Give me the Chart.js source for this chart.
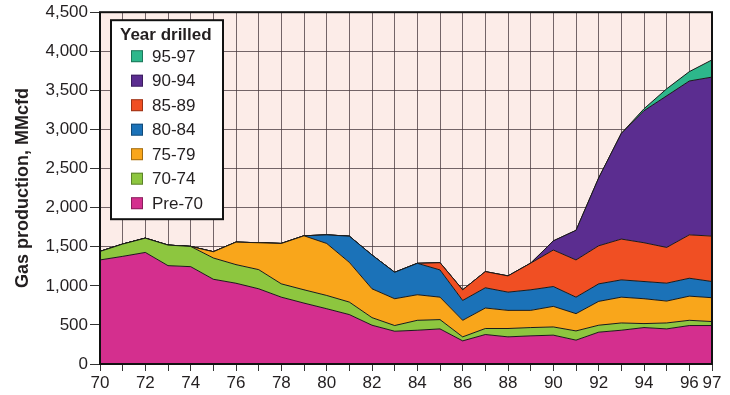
<!DOCTYPE html>
<html>
<head>
<meta charset="utf-8">
<script src="https://cdn.jsdelivr.net/npm/chart.js@4.4.1/dist/chart.umd.min.js"></script>
<style>
  html, body { margin: 0; padding: 0; background: #fff; }
  #box { width: 730px; height: 395px; }
</style>
</head>
<body>
<div id="box"><canvas id="grafico" width="730" height="395"></canvas></div>
<script>
// anos (eixo x)
var anos = [70, 71, 72, 73, 74, 75, 76, 77, 78, 79, 80, 81, 82, 83,
            84, 85, 86, 87, 88, 89, 90, 91, 92, 93, 94, 95, 96, 97];

// production per vintage, MMcfd
var pre70 = [1331, 1377, 1427, 1258, 1245, 1084, 1033, 962, 855, 779, 707, 632, 496, 419,
             432, 449, 296, 377, 347, 360, 369, 305, 407, 432, 466, 449, 492, 492];
var v7074 = [109, 157, 183, 263, 259, 272, 238, 245, 170, 170, 170, 160, 97, 73,
             127, 119, 51, 77, 107, 106, 105, 118, 89, 93, 51, 76, 67, 51];
var v7579 = [0, 0, 0, 0, 0, 80, 288, 344, 517, 691, 665, 508, 369, 343,
             327, 287, 212, 262, 232, 220, 263, 221, 305, 330, 318, 280, 309, 305];
var v8084 = [0, 0, 0, 0, 0, 0, 0, 0, 0, 0, 110, 335, 432, 338,
             402, 348, 254, 259, 233, 263, 254, 211, 224, 221, 220, 229, 229, 207];
var v8589 = [0, 0, 0, 0, 0, 0, 0, 0, 0, 0, 0, 0, 0, 0,
             0, 93, 136, 207, 208, 341, 467, 476, 487, 522, 496, 457, 555, 581];
var v9094 = [0, 0, 0, 0, 0, 0, 0, 0, 0, 0, 0, 0, 0, 0,
             0, 0, 0, 0, 0, 0, 117, 379, 868, 1352, 1689, 1939, 1968, 2034];
var v9597 = [0, 0, 0, 0, 0, 0, 0, 0, 0, 0, 0, 0, 0, 0,
             0, 0, 0, 0, 0, 0, 0, 0, 0, 0, 25, 90, 120, 220];

var nomes = ['Pre-70', '70-74', '75-79', '80-84', '85-89', '90-94', '95-97'];
var cores = ['#d42f8e', '#8dc63f', '#f9a61b', '#1b72b8', '#f04f23', '#5b2d90', '#2db78b'];
var series = [pre70, v7074, v7579, v8084, v8589, v9094, v9597];

var yTicks = [0, 500, 1000, 1500, 2000, 2500, 3000, 3500, 4000, 4500];

var fonte = "'Liberation Sans', Arial, sans-serif";
var corTexto = '#231f20';
var corGrade = 'rgba(70, 55, 60, 0.75)';

var datasets = [];
for (let i = 0; i < series.length; i++) {
    datasets.push({
        label: nomes[i],
        data: series[i],
        backgroundColor: cores[i],
        borderColor: '#1a1a1a',
        borderWidth: 1,
        pointRadius: 0,
        tension: 0,
        fill: i == 0 ? 'origin' : '-1'
    });
}

// pink plot background
var fundo = {
    id: 'fundo',
    beforeDraw(chart) {
        var a = chart.chartArea, ctx = chart.ctx;
        ctx.save();
        ctx.fillStyle = '#fcece8';
        ctx.fillRect(a.left, a.top, a.right - a.left, a.bottom - a.top);
        ctx.restore();
    }
};

// frame, y title and the boxed legend
var extras = {
    id: 'extras',
    afterDatasetsDraw(chart) {
        var a = chart.chartArea, ctx = chart.ctx;
        ctx.save();
        ctx.strokeStyle = '#111';
        ctx.lineWidth = 2;
        ctx.strokeRect(a.left, a.top, a.right - a.left, a.bottom - a.top);

        // y axis title
        ctx.translate(28, (a.top + a.bottom) / 2);
        ctx.rotate(-Math.PI / 2);
        ctx.fillStyle = corTexto;
        ctx.font = 'bold 18px ' + fonte;
        ctx.textAlign = 'center';
        ctx.textBaseline = 'alphabetic';
        ctx.fillText('Gas production, MMcfd', 0, 0);
        ctx.restore();

        // legend
        var lx = a.left + 11, ly = a.top + 8;
        ctx.save();
        ctx.fillStyle = '#fff';
        ctx.fillRect(lx, ly, 112, 199);
        ctx.strokeStyle = '#111';
        ctx.lineWidth = 2;
        ctx.strokeRect(lx, ly, 112, 199);
        ctx.fillStyle = corTexto;
        ctx.textBaseline = 'middle';
        ctx.textAlign = 'left';
        ctx.font = 'bold 17px ' + fonte;
        ctx.fillText('Year drilled', lx + 9, ly + 15);
        ctx.font = '17px ' + fonte;
        var ds = chart.data.datasets;
        for (let k = 0; k < ds.length; k++) {
            var d = ds[ds.length - 1 - k];
            var cy = ly + 36 + k * 24.5;
            ctx.fillStyle = d.backgroundColor;
            ctx.fillRect(lx + 20, cy - 6, 12, 12);
            ctx.strokeStyle = 'rgba(0,0,0,0.35)';
            ctx.lineWidth = 1;
            ctx.strokeRect(lx + 20.5, cy - 5.5, 11, 11);
            ctx.fillStyle = corTexto;
            ctx.fillText(d.label, lx + 41, cy + 1);
        }
        ctx.restore();
    }
};

var ctx = document.getElementById('grafico');
var meuGrafico = new Chart(ctx, {
    type: 'line',
    data: {
        labels: anos,
        datasets: datasets
    },
    plugins: [fundo, extras],
    options: {
        responsive: false,
        animation: false,
        layout: { padding: { top: 10, right: 18, left: 0, bottom: 0 } },
        plugins: {
            legend: { display: false },
            tooltip: { enabled: false }
        },
        scales: {
            x: {
                type: 'category',
                offset: false,
                afterFit(scale) { scale.height = 31; },
                border: { display: false },
                grid: {
                    color: corGrade,
                    lineWidth: 1,
                    tickLength: 7,
                    tickColor: '#333'
                },
                ticks: {
                    autoSkip: false,
                    maxRotation: 0,
                    padding: 2,
                    color: corTexto,
                    font: { family: fonte, size: 17 },
                    callback: function (val) {
                        var ano = this.getLabelForValue(val);
                        return (ano % 2 == 0 || ano == 97) ? String(ano) : '';
                    }
                }
            },
            y: {
                stacked: true,
                min: 0,
                max: 4500,
                afterFit(scale) { scale.width = 100; },
                afterBuildTicks(scale) {
                    scale.ticks = yTicks.map(v => ({ value: v }));
                },
                border: { display: false },
                grid: {
                    color: corGrade,
                    lineWidth: 1,
                    tickLength: 10,
                    tickColor: '#333'
                },
                ticks: {
                    padding: 2,
                    color: corTexto,
                    font: { family: fonte, size: 17 },
                    callback: function (v) { return v.toLocaleString('en-US'); }
                }
            }
        }
    }
});
</script>
</body>
</html>
